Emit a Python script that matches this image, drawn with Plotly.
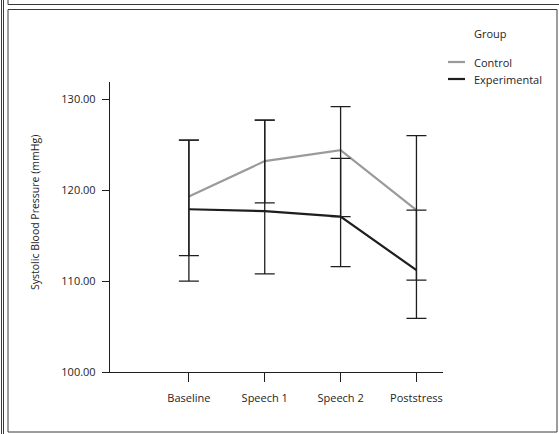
import plotly.graph_objects as go

# Time points and group summaries (systolic BP, mmHg)
categories = ["Baseline", "Speech 1", "Speech 2", "Poststress"]

control_mean = [119.3, 123.2, 124.4, 117.8]
control_upper = [125.5, 127.7, 129.2, 126.0]
control_lower = [112.8, 118.6, 117.1, 110.1]

experimental_mean = [117.9, 117.7, 117.1, 111.2]
experimental_upper = [125.5, 127.7, 123.5, 117.8]
experimental_lower = [110.0, 110.8, 111.6, 105.9]

y_ticks = [100, 110, 120, 130]

W, H = 559, 434
L, R, T, B = 110, 116, 82, 62
PW, PH = W - L - R, H - T - B

INK = "#1e1e1e"
GREY = "#9a9a9a"
FONT = "Open Sans, Noto Sans, sans-serif"


def px(x):
    return (x - L) / PW


def py(y):
    return (H - B - y) / PH


def err(mean, upper, lower):
    return dict(
        type="data",
        symmetric=False,
        array=[u - m for u, m in zip(upper, mean)],
        arrayminus=[m - lo for m, lo in zip(mean, lower)],
        color=INK,
        thickness=1.3,
        width=10,
    )


fig = go.Figure()

fig.add_trace(go.Scatter(
    x=categories, y=control_mean, mode="lines", name="Control",
    line=dict(color=GREY, width=2.2), showlegend=False,
))
fig.add_trace(go.Scatter(
    x=categories, y=experimental_mean, mode="lines", name="Experimental",
    line=dict(color=INK, width=2.2), showlegend=False,
))
# error bars drawn above the lines
for mean, up, lo in [(control_mean, control_upper, control_lower),
                     (experimental_mean, experimental_upper, experimental_lower)]:
    fig.add_trace(go.Scatter(
        x=categories, y=mean, mode="markers",
        marker=dict(size=1, opacity=0),
        error_y=err(mean, up, lo), showlegend=False, hoverinfo="skip",
    ))

shapes = []
line_style = dict(color="#3a3a3a", width=1)
# outer frame lines
for xx in (1.5, 3.5):
    shapes.append(dict(type="line", xref="paper", yref="paper",
                       x0=px(xx), x1=px(xx), y0=py(0), y1=py(H),
                       line=line_style))
shapes.append(dict(type="line", xref="paper", yref="paper",
                   x0=px(8), x1=px(W), y0=py(4.5), y1=py(4.5), line=line_style))
shapes.append(dict(type="line", xref="paper", yref="paper",
                   x0=px(8), x1=px(8), y0=py(0), y1=py(4.5), line=line_style))
shapes.append(dict(type="rect", xref="paper", yref="paper",
                   x0=px(8), x1=px(557), y0=py(9.5), y1=py(432),
                   line=line_style))

# legend samples
legend_rows = [("Control", GREY, 62), ("Experimental", INK, 79)]
annotations = [dict(text="Group", xref="paper", yref="paper",
                    x=px(472), y=py(33), xanchor="left", yanchor="middle",
                    showarrow=False, font=dict(family=FONT, size=11, color=INK))]
for label, col, yy in legend_rows:
    shapes.append(dict(type="line", xref="paper", yref="paper",
                       x0=px(448), x1=px(465), y0=py(yy), y1=py(yy),
                       line=dict(color=col, width=2.2)))
    annotations.append(dict(text=label, xref="paper", yref="paper",
                            x=px(472), y=py(yy), xanchor="left", yanchor="middle",
                            showarrow=False,
                            font=dict(family=FONT, size=11, color=INK)))

# y-axis title
annotations.append(dict(text="Systolic Blood Pressure (mmHg)", xref="paper",
                        yref="paper", x=px(35), y=py(213), textangle=-90,
                        xanchor="center", yanchor="middle", showarrow=False,
                        font=dict(family=FONT, size=10.5, color=INK)))

fig.update_layout(
    width=W, height=H,
    margin=dict(l=L, r=R, t=T, b=B, pad=0),
    paper_bgcolor="white", plot_bgcolor="white",
    font=dict(family=FONT, size=11, color=INK),
    shapes=shapes, annotations=annotations,
    showlegend=False,
)
fig.update_xaxes(
    type="category", range=[-1.04, 3.35],
    showline=True, linecolor=INK, linewidth=1.3,
    ticks="outside", ticklen=9, tickwidth=1.2, tickcolor=INK,
    ticklabelstandoff=7,
    showgrid=False, zeroline=False,
    tickfont=dict(family=FONT, size=11, color=INK),
)
fig.update_yaxes(
    range=[100, 131.9],
    tickvals=y_ticks, ticktext=[f"{v:.2f}" for v in y_ticks],
    showline=True, linecolor=INK, linewidth=1.3,
    ticks="outside", ticklen=7, tickwidth=1.2, tickcolor=INK,
    ticklabelstandoff=4,
    showgrid=False, zeroline=False,
    tickfont=dict(family=FONT, size=11, color=INK),
)

fig.write_html("out.html")
